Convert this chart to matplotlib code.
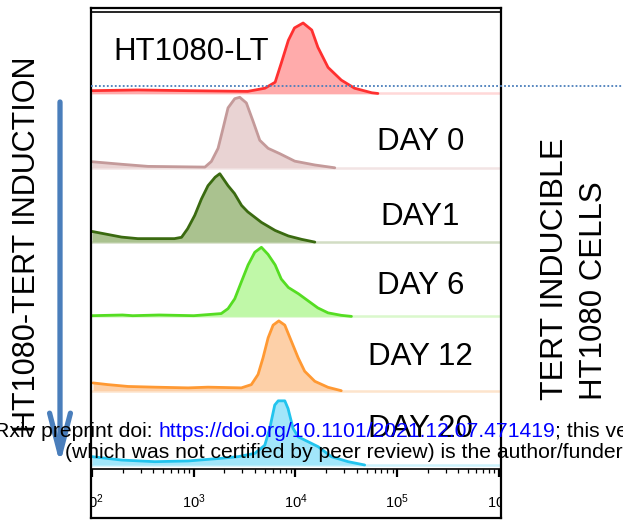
import matplotlib
matplotlib.use('Agg')
import matplotlib.pyplot as plt
import numpy as np
from matplotlib.patches import FancyArrowPatch
from matplotlib.lines import Line2D
from matplotlib.ticker import LogLocator, NullFormatter

plt.rcParams['font.family'] = ['Liberation Sans', 'DejaVu Sans']
plt.rcParams['mathtext.fontset'] = 'custom'
plt.rcParams['mathtext.rm'] = 'Liberation Sans'
plt.rcParams['mathtext.it'] = 'Liberation Sans:italic'
plt.rcParams['mathtext.bf'] = 'Liberation Sans:bold'

# ---------------- data (log10 fluorescence, normalised cell counts) ----------------
labels = ['HT1080-LT', 'DAY 0', 'DAY1', 'DAY 6', 'DAY 12', 'DAY 20']

lt_log = [2.00, 2.45, 2.94, 3.53, 3.70, 3.80, 3.86, 3.93, 3.99, 4.075, 4.16, 4.22, 4.32, 4.45, 4.58, 4.75, 4.81]
lt_cnt = [0.04, 0.05, 0.04, 0.03, 0.075, 0.16, 0.43, 0.755, 0.93, 1.0, 0.90, 0.656, 0.37, 0.19, 0.075, 0.01, 0.0]

d0_log = [2.00, 2.29, 2.55, 3.11, 3.173, 3.239, 3.288, 3.337, 3.403, 3.452, 3.517, 3.583, 3.649, 3.731, 3.846, 3.993, 4.19, 4.386]
d0_cnt = [0.086, 0.05, 0.02, 0.01, 0.09, 0.276, 0.56, 0.85, 0.98, 1.0, 0.92, 0.66, 0.39, 0.276, 0.2, 0.094, 0.04, 0.0]

d1_log = [2.00, 2.29, 2.45, 2.81, 2.88, 2.94, 3.01, 3.075, 3.14, 3.21, 3.256, 3.337, 3.40, 3.47, 3.53, 3.665, 3.80, 3.93, 4.06, 4.19]
d1_cnt = [0.151, 0.071, 0.049, 0.049, 0.068, 0.19, 0.38, 0.61, 0.80, 0.92, 0.97, 0.80, 0.69, 0.52, 0.43, 0.28, 0.165, 0.087, 0.039, 0.0]

d6_log = [2.00, 2.30, 2.40, 2.66, 3.00, 3.27, 3.337, 3.403, 3.468, 3.534, 3.60, 3.665, 3.73, 3.80, 3.86, 3.93, 4.03, 4.12, 4.22, 4.32, 4.45, 4.55]
d6_cnt = [0.01, 0.02, 0.01, 0.02, 0.01, 0.04, 0.11, 0.25, 0.49, 0.73, 0.91, 0.98, 0.88, 0.73, 0.53, 0.41, 0.32, 0.225, 0.12, 0.05, 0.015, 0.0]

d12_log = [2.01, 2.157, 2.354, 2.617, 2.944, 3.14, 3.468, 3.566, 3.632, 3.681, 3.731, 3.78, 3.836, 3.895, 3.96, 4.026, 4.09, 4.19, 4.32, 4.45]
d12_cnt = [0.11, 0.086, 0.06, 0.05, 0.04, 0.05, 0.04, 0.086, 0.23, 0.467, 0.75, 0.93, 0.99, 0.93, 0.70, 0.467, 0.276, 0.133, 0.048, 0.0]

d20_log = [2.00, 2.29, 2.617, 2.944, 3.27, 3.436, 3.60, 3.698, 3.747, 3.796, 3.83, 3.895, 3.927, 3.976, 4.026, 4.124, 4.222, 4.353, 4.517, 4.68]
d20_cnt = [0.118, 0.07, 0.047, 0.057, 0.095, 0.118, 0.165, 0.28, 0.52, 0.85, 0.91, 0.91, 0.80, 0.52, 0.40, 0.33, 0.26, 0.118, 0.047, 0.0]

tick_exps = [2, 3, 4, 5, 6]

edge_colors = ['#ff3030', '#c49a9a', '#3a6a10', '#55dd22', '#ff9933', '#22c4ee']
fill_colors = ['#ffabab', '#e9d3d3', '#aac28f', '#c0f8a8', '#fdd0a8', '#a2e6fa']
base_colors = ['#ffd8d8', '#f2e4e4', '#d2ddc4', '#daf8cc', '#fde4cc', '#cdf2fc']

series = [(lt_log, lt_cnt), (d0_log, d0_cnt), (d1_log, d1_cnt),
          (d6_log, d6_cnt), (d12_log, d12_cnt), (d20_log, d20_cnt)]

# ---------------- layout helpers (pixels) ----------------
W, H = 623, 521
fig = plt.figure(figsize=(W / 100, H / 100), dpi=100)


def fx(x):
    return x / W


def fy(y):
    return (H - y) / H


ax = fig.add_axes([fx(91), fy(469), 410 / W, 457 / H])
frame = fig.add_axes([fx(91), fy(518), 410 / W, (518 - 7.5) / H])

row_px = 74.3
peak_units = 70.5 / row_px
n = len(series)
for i, (lx, cnt) in enumerate(series):
    off = (n - 1) - i
    x = 10 ** np.array(lx)
    y = off + np.array(cnt) * peak_units
    ax.axhline(off, color=base_colors[i], lw=1.8, zorder=1 + 2 * i)
    ax.fill_between(x, off, y, color=fill_colors[i], lw=0, zorder=2 + 2 * i)
    ax.plot(x, y, color=edge_colors[i], lw=2.0, zorder=2 + 2 * i,
            solid_joinstyle='round', solid_capstyle='round')

ax.set_xscale('log')
ax.set_xlim(10 ** 1.99, 10 ** 6.02)
ax.set_ylim(-0.054, -0.054 + 457 / row_px)
ax.set_xticks([10.0 ** e for e in tick_exps])
ax.set_xticklabels([r'$\mathdefault{10^{%d}}$' % e for e in tick_exps])
ax.xaxis.set_minor_locator(LogLocator(base=10, subs=np.arange(2, 10), numticks=40))
ax.xaxis.set_minor_formatter(NullFormatter())
ax.tick_params(axis='x', which='major', direction='out', length=6.0, width=1.6,
               labelsize=10.5, pad=11, color='black')
ax.tick_params(axis='x', which='minor', direction='out', length=3.2, width=0.9,
               color='black')
ax.tick_params(axis='y', left=False, labelleft=False)
for s in ['left', 'right']:
    ax.spines[s].set_visible(False)
for s in ['top', 'bottom']:
    ax.spines[s].set_linewidth(1.2)
ax.patch.set_visible(False)

frame.set_xticks([])
frame.set_yticks([])
frame.patch.set_visible(False)
for s in frame.spines.values():
    s.set_linewidth(1.6)

# panel labels
lab_pos = [(191, 60), (421, 150), (420, 225), (421, 294), (420.5, 365), (420.5, 437)]
for (px, py), t in zip(lab_pos, labels):
    fig.text(fx(px), fy(py), t, fontsize=22.5, ha='center', va='baseline', zorder=5)

# side labels
fig.text(fx(35), fy(244), 'HT1080-TERT INDUCTION', rotation=90, rotation_mode='anchor',
         ha='center', va='baseline', fontsize=22)
fig.text(fx(563), fy(400), 'TERT INDUCIBLE', rotation=90, rotation_mode='anchor',
         ha='left', va='baseline', fontsize=23)
fig.text(fx(602), fy(400), 'HT1080 CELLS', rotation=90, rotation_mode='anchor',
         ha='left', va='baseline', fontsize=22.5)

# arrow and dotted line
arr = FancyArrowPatch((fx(60), fy(102)), (fx(60), fy(464)), transform=fig.transFigure,
                      arrowstyle='->,head_length=29,head_width=7.5', mutation_scale=1,
                      lw=3.8, color='#4a7ebb', shrinkA=0, shrinkB=0, zorder=4)
fig.add_artist(arr)
fig.add_artist(Line2D([fx(91), fx(623)], [fy(86), fy(86)], transform=fig.transFigure,
                      color='#4a7ebb', lw=1.3, dashes=(1.0, 1.2), zorder=6))

# bioRxiv watermark
wm = 15.2
t_url = fig.text(fx(158), fy(436.7), 'https://doi.org/10.1101/2021.12.07.471419',
                 color='#0000ff', fontsize=wm, ha='left', va='baseline', zorder=20)
fig.text(fx(152.5), fy(436.7), 'bioRxiv preprint doi:', fontsize=wm, ha='right',
         va='baseline', zorder=20)
fig.text(fx(65), fy(458.3), '(which was not certified by peer review) is the author/funder, '
         'who has granted bioRxiv a license to display the preprint in perpetuity.',
         fontsize=wm, ha='left', va='baseline', zorder=20)

fig.canvas.draw()
bb = t_url.get_window_extent()
fig.text(bb.x1 / W, fy(436.7), '; this version posted December 8, 2021. The copyright holder',
         fontsize=wm, ha='left', va='baseline', zorder=20)
for t in ax.xaxis.get_major_ticks():
    t.label1.set_clip_box(frame.bbox)
    t.label1.set_clip_on(True)

fig.savefig('out.png', dpi=100)
